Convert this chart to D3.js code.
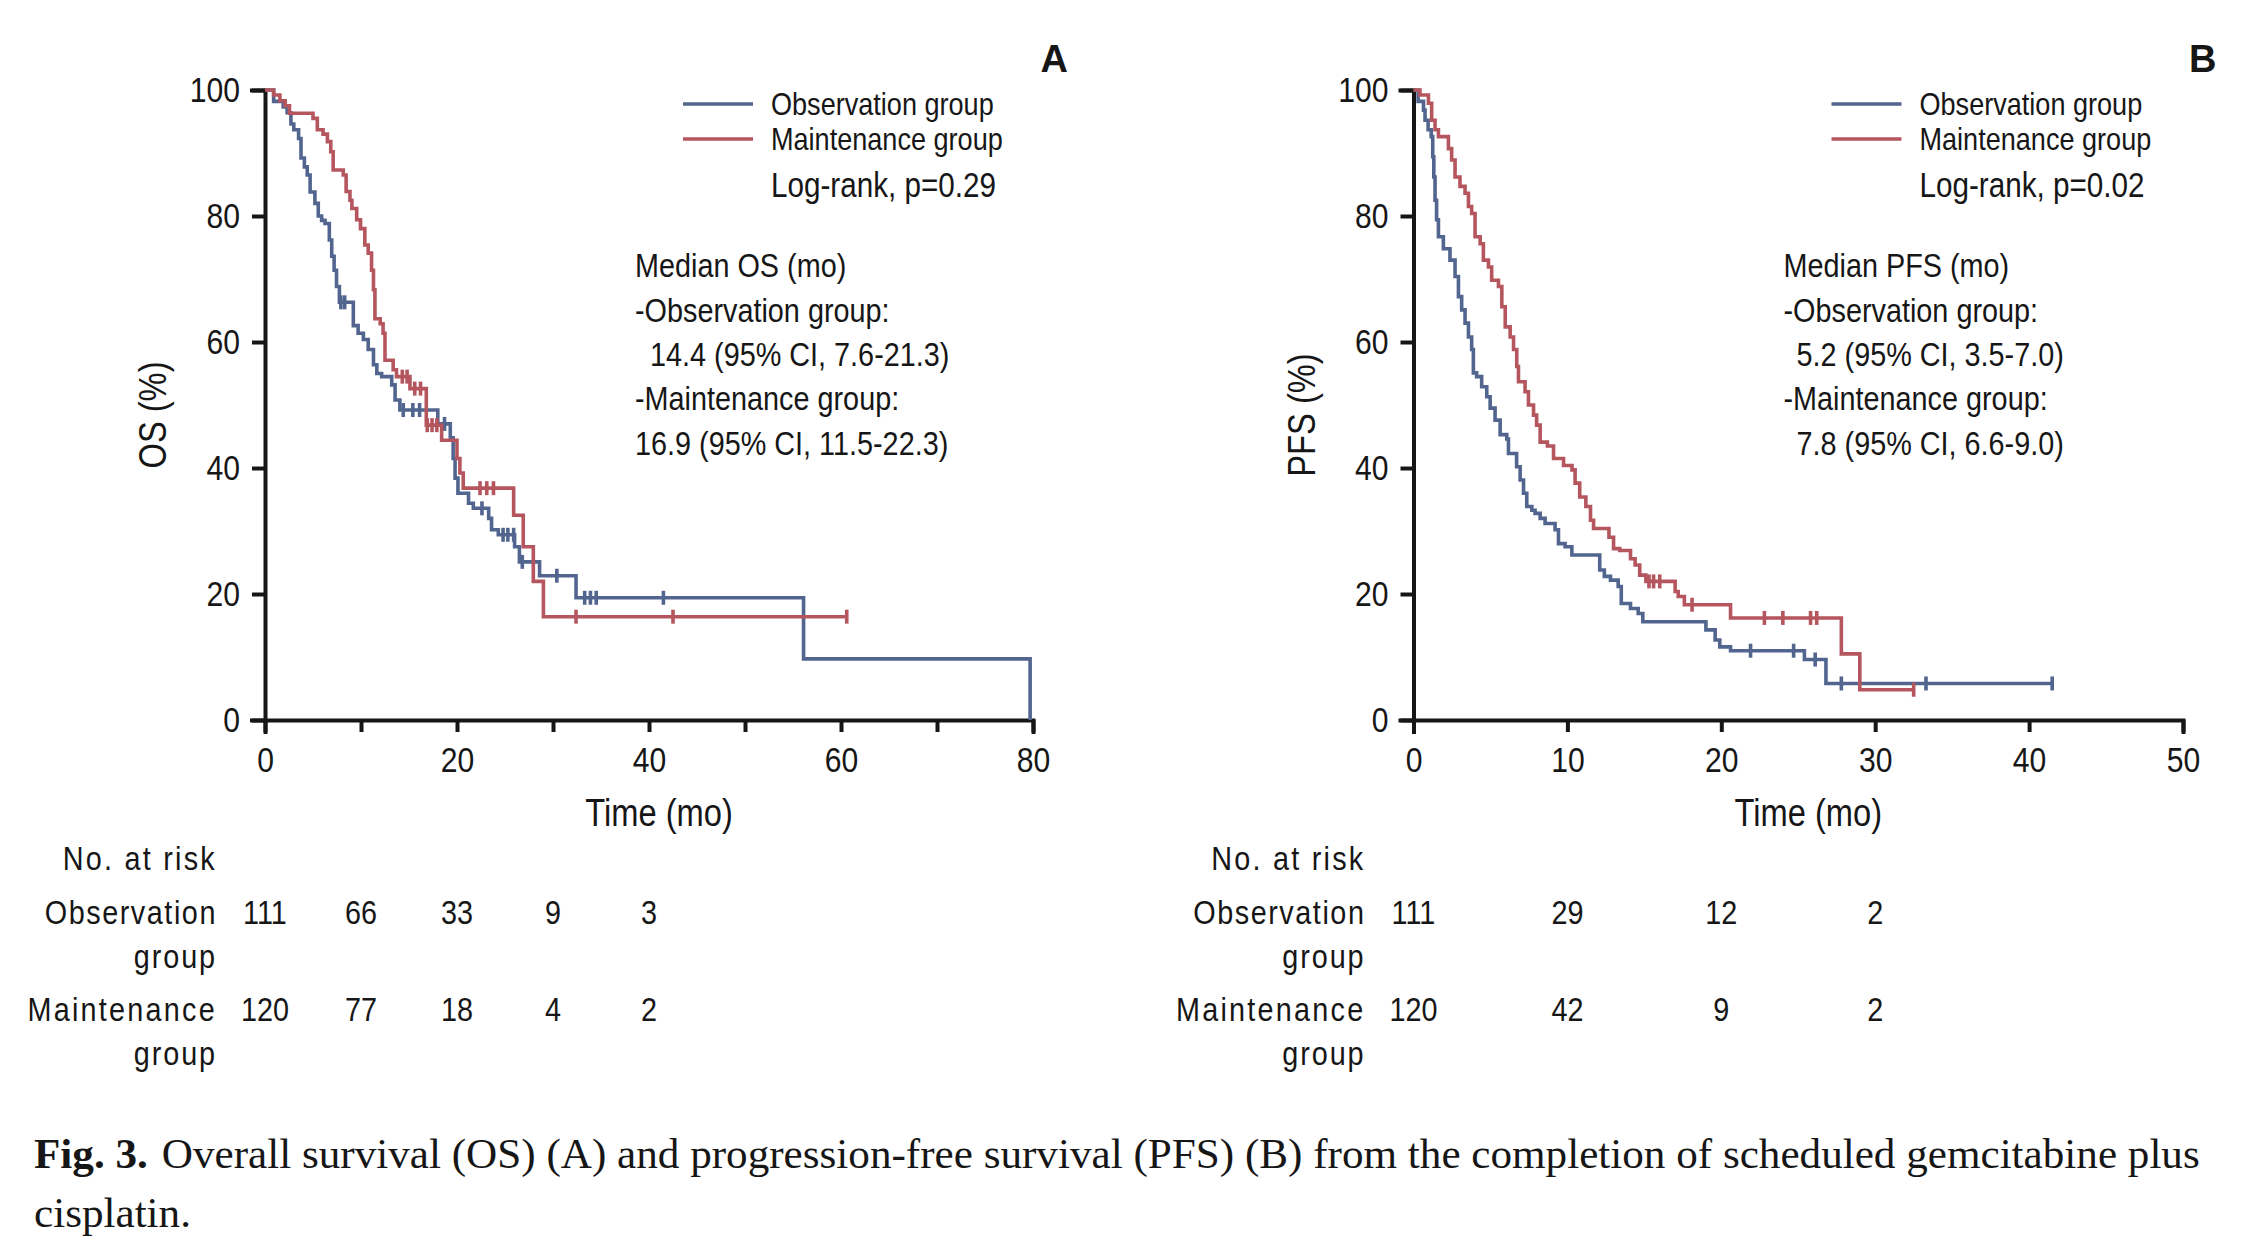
<!DOCTYPE html>
<html><head><meta charset="utf-8">
<script src="https://cdn.jsdelivr.net/npm/d3@7"></script>
<style>body{margin:0;background:#fff} svg{display:block}</style>
</head><body><svg id="c" width="2246" height="1248"></svg>
<script>
// ---------------- data ----------------
const yTicks = [0, 20, 40, 60, 80, 100];
const osTicks = [0, 10, 20, 30, 40, 50, 60, 70, 80];
const osTickLabels = [0, 20, 40, 60, 80];
const pfsTicks = [0, 10, 20, 30, 40, 50];
const pfsTickLabels = [0, 10, 20, 30, 40, 50];

const groups = ["Observation group", "Maintenance group"];

// OS – Observation group: [time (mo), survival % after the step]
const osObs = [[0.9,98.2],[1.9,97.3],[2.3,96.4],[2.7,94.6],[3.0,93.7],[3.5,92.3],[3.75,89.2],[4.1,87.8],[4.4,86.5],[4.7,83.8],[5.2,82.0],[5.55,80.0],[5.9,79.3],[6.25,78.8],[6.7,76.2],[6.95,73.6],[7.2,71.4],[7.45,68.8],[7.75,66.3],[9.2,62.6],[9.7,61.4],[10.25,60.4],[10.75,58.8],[11.3,56.4],[11.65,55.0],[12.15,54.5],[13.2,53.2],[13.55,50.8],[14.05,49.2],[18.0,47.0],[19.3,44.8],[19.6,41.5],[19.8,38.4],[20.1,36.0],[21.2,34.4],[21.7,33.6],[23.3,32.0],[23.6,30.2],[24.3,29.4],[26.0,27.5],[26.5,25.1],[28.6,22.9],[32.4,19.4],[56.1,9.7],[79.7,0]];
const osObsCensor = [7.9, 8.3, 14.4, 15.4, 16.1, 18.7, 22.6, 24.8, 25.3, 25.9, 26.8, 30.4, 33.3, 33.9, 34.5, 41.5];
const osObsEnd = 79.7;

// OS – Maintenance group
const osMnt = [[0.9,99.2],[1.55,98.3],[2.1,97.5],[2.55,96.3],[5.0,95.5],[5.45,93.7],[6.05,93.0],[6.5,91.8],[6.85,90.2],[7.1,87.3],[8.15,86.5],[8.45,83.9],[8.85,82.5],[9.05,81.2],[9.55,79.4],[9.95,78.0],[10.4,75.4],[10.75,74.1],[11.1,71.4],[11.3,68.3],[11.45,63.7],[12.0,62.9],[12.3,61.4],[12.5,57.1],[13.35,55.6],[13.7,54.5],[15.1,52.6],[16.8,46.8],[18.4,44.4],[20.0,41.5],[20.3,39.2],[20.65,36.8],[25.9,32.5],[26.9,27.5],[27.95,22.0],[29.0,16.4]];
const osMntCensor = [14.3, 14.8, 15.6, 16.2, 16.9, 17.4, 17.9, 22.4, 23.1, 23.8, 32.4, 42.5, 60.6];
const osMntEnd = 60.6;

// PFS – Observation group
const pfsObs = [[0.3,98.2],[0.65,96.8],[0.75,95.2],[0.95,93.7],[1.15,92.6],[1.25,89.4],[1.32,86.2],[1.4,82.5],[1.5,79.4],[1.62,76.7],[1.94,74.8],[2.37,73.0],[2.7,70.4],[2.92,67.2],[3.13,65.1],[3.35,63.0],[3.57,60.8],[3.78,58.8],[3.89,55.1],[4.1,54.5],[4.43,52.9],[4.76,51.3],[4.98,49.5],[5.3,47.6],[5.63,45.3],[6.06,44.6],[6.17,42.3],[6.7,40.2],[6.93,38.1],[7.15,36.0],[7.36,33.9],[7.69,33.3],[7.9,32.8],[8.23,32.0],[8.55,31.2],[9.2,30.2],[9.42,28.0],[9.85,27.5],[10.29,26.2],[12.1,23.8],[12.4,22.8],[12.8,22.2],[13.3,21.2],[13.5,18.5],[14.1,17.7],[14.6,16.9],[14.9,15.6],[19.0,14.3],[19.6,12.7],[19.9,11.6],[20.6,11.0],[25.4,9.6],[26.8,5.8]];
const pfsObsCensor = [21.9, 24.7, 26.1, 27.8, 33.3, 41.5];
const pfsObsEnd = 41.5;

// PFS – Maintenance group
const pfsMnt = [[0.42,99.2],[0.97,97.9],[1.18,95.2],[1.4,93.7],[1.62,92.6],[2.27,90.7],[2.48,88.9],[2.7,86.2],[3.02,84.7],[3.35,83.6],[3.57,81.5],[3.78,80.4],[4.0,76.7],[4.33,75.6],[4.54,73.0],[4.87,71.9],[5.08,69.8],[5.52,68.8],[5.74,65.6],[5.96,62.4],[6.28,60.8],[6.5,58.8],[6.71,56.1],[6.82,53.7],[7.25,52.1],[7.47,50.0],[7.8,48.4],[8.0,46.8],[8.23,44.1],[8.7,43.5],[9.1,41.5],[9.75,40.4],[10.3,39.7],[10.5,37.6],[10.8,35.4],[11.2,33.9],[11.5,31.7],[11.7,30.4],[12.7,29.0],[13.0,27.2],[13.4,26.9],[14.1,25.6],[14.4,24.6],[14.7,23.0],[15.1,22.0],[17.0,20.4],[17.2,19.6],[17.6,18.3],[20.6,16.2],[27.8,10.5],[29.0,4.8]];
const pfsMntCensor = [15.3, 15.6, 16.0, 18.1, 22.8, 24.0, 25.8, 26.2, 32.5];
const pfsMntEnd = 32.5;

// Numbers at risk
const riskTimesOS = [0, 10, 20, 30, 40];
const riskOSObs = [111, 66, 33, 9, 3];
const riskOSMnt = [120, 77, 18, 4, 2];
const riskTimesPFS = [0, 10, 20, 30];
const riskPFSObs = [111, 29, 12, 2];
const riskPFSMnt = [120, 42, 9, 2];

const medianOSLines = ["Median OS (mo)", "-Observation group:", "14.4 (95% CI, 7.6-21.3)", "-Maintenance group:", "16.9 (95% CI, 11.5-22.3)"];
const medianPFSLines = ["Median PFS (mo)", "-Observation group:", "5.2 (95% CI, 3.5-7.0)", "-Maintenance group:", "7.8 (95% CI, 6.6-9.0)"];
const captionBold = "Fig. 3.";
const captionLine1 = "Overall survival (OS) (A) and progression-free survival (PFS) (B) from the completion of scheduled gemcitabine plus";
const captionLine2 = "cisplatin.";

// ---------------- drawing ----------------
const svg = d3.select("#c");
const BLUE = "#52658F", RED = "#B5565F", INK = "#161616";
const SANS = "'Liberation Sans',Arial,sans-serif";
const SQ = 0.86;   // horizontal squeeze to mimic the condensed typeface
const FS = { tick: 35, title: 38, legend: 31.5, median: 33.5, logrank: 34.5, risk: 33.5 };

// condensed text helper
function ctext(parent, x, y, str, size, anchor, ls) {
  return parent.append("text")
    .attr("transform", `translate(${x},${y}) scale(${SQ},1)`)
    .attr("text-anchor", anchor || "start")
    .attr("font-family", SANS).attr("font-size", size).attr("fill", INK)
    .attr("letter-spacing", ls || 0)
    .text(str);
}

function stepVal(events, t) {
  let v = 100;
  for (const e of events) { if (e[0] <= t) v = e[1]; else break; }
  return v;
}

function squeezeAxisText(a) {
  a.selectAll("text").each(function () {
    const t = d3.select(this);
    const x = +t.attr("x") || 0, y = +t.attr("y") || 0;
    t.attr("x", 0).attr("y", 0).attr("transform", `translate(${x},${y}) scale(${SQ},1)`)
      .attr("font-family", SANS).attr("font-size", FS.tick).attr("fill", INK);
  });
}

function panel(cfg) {
  const x = d3.scaleLinear().domain(cfg.xDomain).range(cfg.xRange);
  const y = d3.scaleLinear().domain([0, 100]).range([720, 90]);
  const g = svg.append("g");
  const x0 = cfg.xRange[0], x1 = cfg.xRange[1];

  // axes
  const xa = g.append("g").attr("transform", "translate(0,720)")
    .call(d3.axisBottom(x).tickValues(cfg.ticks).tickSize(12).tickPadding(15)
      .tickFormat(d => cfg.tickLabels.includes(d) ? d : ""));
  const ya = g.append("g").attr("transform", `translate(${x0},0)`)
    .call(d3.axisLeft(y).tickValues(yTicks).tickSize(13).tickPadding(12));
  [xa, ya].forEach(a => {
    a.select(".domain").attr("stroke", INK).attr("stroke-width", 4).attr("stroke-linecap", "square");
    a.selectAll(".tick line").attr("stroke", INK).attr("stroke-width", 4);
    squeezeAxisText(a);
  });

  // curves
  const line = d3.line().x(d => x(d[0])).y(d => y(d[1])).curve(d3.curveStepAfter);
  cfg.series.forEach(s => {
    const pts = [[0, 100], ...s.events, [s.end, s.events[s.events.length - 1][1]]];
    g.append("path").attr("d", line(pts)).attr("fill", "none")
      .attr("stroke", s.color).attr("stroke-width", 3.6).attr("stroke-linejoin", "miter");
    g.selectAll(null).data(s.censor).enter().append("line")
      .attr("x1", d => x(d)).attr("x2", d => x(d))
      .attr("y1", d => y(stepVal(s.events, d)) - 7).attr("y2", d => y(stepVal(s.events, d)) + 7)
      .attr("stroke", s.color).attr("stroke-width", 3.6);
  });

  // axis titles
  g.append("text").attr("transform", `translate(${x0 - 112},415) rotate(-90) scale(${SQ},1)`)
    .attr("text-anchor", "middle").attr("dy", "0.35em")
    .attr("font-family", SANS).attr("font-size", FS.title).attr("fill", INK).text(cfg.yTitle);
  ctext(g, (x0 + x1) / 2 + 10, 826, "Time (mo)", FS.title, "middle");

  // panel letter
  g.append("text").attr("x", x0 + 803).attr("y", 72).attr("text-anchor", "end")
    .attr("font-family", SANS).attr("font-weight", "bold")
    .attr("font-size", 38).attr("fill", INK).text(cfg.letter);

  // legend
  const legY = [104, 139];
  cfg.series.forEach((s, i) => {
    g.append("line").attr("x1", x0 + 418).attr("x2", x0 + 488).attr("y1", legY[i]).attr("y2", legY[i])
      .attr("stroke", s.color).attr("stroke-width", 3.6);
    ctext(g, x0 + 506, legY[i] + 10.5, groups[i], FS.legend);
  });
  ctext(g, x0 + 506, 197, cfg.logrank, FS.logrank);

  // median block
  const medY = [277, 321.5, 366, 410, 454.5];
  cfg.median.forEach((t, i) => ctext(g, x0 + 370 + cfg.indent[i], medY[i], t, FS.median));

  // numbers at risk
  const lab = x0 - 48;
  const rows = [["No. at risk", 870, 2.6], ["Observation", 924, 1.8], ["group", 968, 2.2], ["Maintenance", 1021, 2.6], ["group", 1065, 2.2]];
  rows.forEach(r => ctext(g, lab, r[1], r[0], FS.risk, "end", r[2]));
  [[cfg.riskObs, 924], [cfg.riskMnt, 1021]].forEach(([vals, yy]) => {
    vals.forEach((d, i) => ctext(g, x(cfg.riskTimes[i]), yy, d, FS.risk, "middle"));
  });
}

panel({
  xDomain: [0, 80], xRange: [265, 1033], ticks: osTicks, tickLabels: osTickLabels,
  yTitle: "OS (%)", letter: "A", logrank: "Log-rank, p=0.29",
  median: medianOSLines, indent: [0, 0, 15, 0, 0],
  series: [
    { events: osObs, censor: osObsCensor, end: osObsEnd, color: BLUE },
    { events: osMnt, censor: osMntCensor, end: osMntEnd, color: RED }
  ],
  riskTimes: riskTimesOS, riskObs: riskOSObs, riskMnt: riskOSMnt
});
panel({
  xDomain: [0, 50], xRange: [1413.5, 2183], ticks: pfsTicks, tickLabels: pfsTickLabels,
  yTitle: "PFS (%)", letter: "B", logrank: "Log-rank, p=0.02",
  median: medianPFSLines, indent: [0, 0, 13, 0, 13],
  series: [
    { events: pfsObs, censor: pfsObsCensor, end: pfsObsEnd, color: BLUE },
    { events: pfsMnt, censor: pfsMntCensor, end: pfsMntEnd, color: RED }
  ],
  riskTimes: riskTimesPFS, riskObs: riskPFSObs, riskMnt: riskPFSMnt
});

// caption
const SERIF = "'Liberation Serif','Times New Roman',serif";
const cap = svg.append("text").attr("x", 34).attr("y", 1168)
  .attr("font-family", SERIF).attr("font-size", 36).attr("fill", INK);
cap.append("tspan").attr("font-weight", "bold").text(captionBold);
cap.append("tspan").attr("dx", 14).text(captionLine1);
const w = cap.node().getComputedTextLength() + 14;
const capFS = 36 * (2169 / w);
cap.attr("font-size", capFS);
svg.append("text").attr("x", 34).attr("y", 1227)
  .attr("font-family", SERIF).attr("font-size", capFS).attr("fill", INK).text(captionLine2);
</script>
</body></html>
